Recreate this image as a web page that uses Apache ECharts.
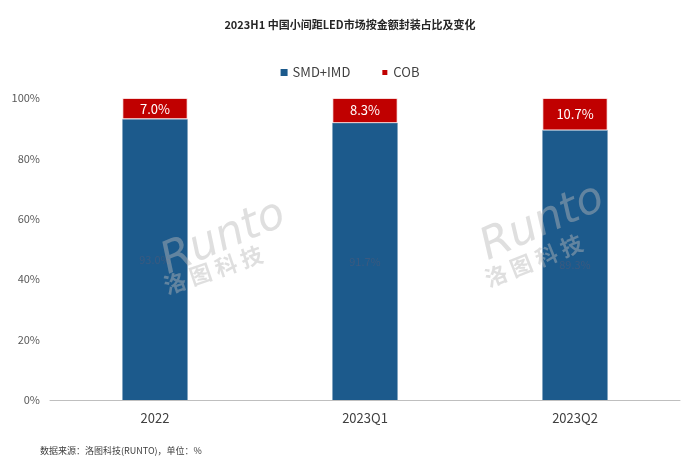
<!DOCTYPE html>
<html><head><meta charset="utf-8">
<script src="https://cdn.jsdelivr.net/npm/echarts@6/dist/echarts.min.js"></script>
<style>html,body{margin:0;padding:0;background:#fff}#c{width:700px;height:467px}</style>
</head><body><div id="c"></div>
<script>
const categories = ['2022', '2023Q1', '2023Q2'];
const smdImd = [93.0, 91.7, 89.3];
const cob = [7.0, 8.3, 10.7];
const yTicks = [0, 20, 40, 60, 80, 100];

const font = '"Noto Sans CJK SC", "Noto Sans", sans-serif';
const wmFill = 'rgba(185,185,185,0.45)';
const chart = echarts.init(document.getElementById('c'), null, {renderer: 'canvas'});
chart.setOption({
  backgroundColor: '#ffffff',
  animation: false,
  title: {
    text: '2023H1 中国小间距LED市场按金额封装占比及变化',
    left: 'center', top: 14,
    textStyle: {fontFamily: font, fontSize: 11, fontWeight: 'bold', color: '#262626'}
  },
  legend: {
    top: 61, left: 'center',
    itemWidth: 7, itemHeight: 7, itemGap: 30,
    icon: 'rect',
    textStyle: {fontFamily: font, fontSize: 13, color: '#404040'},
    data: ['SMD+IMD', 'COB']
  },
  grid: {left: 50, right: 20, top: 98, bottom: 67},
  xAxis: {
    type: 'category', data: categories,
    axisLine: {lineStyle: {color: '#bfbfbf', width: 1}},
    axisTick: {show: false},
    axisLabel: {fontFamily: font, fontSize: 13, color: '#404040', margin: 12}
  },
  yAxis: {
    type: 'value', min: yTicks[0], max: yTicks[yTicks.length - 1], interval: 20,
    axisLine: {show: false}, axisTick: {show: false},
    splitLine: {show: false},
    axisLabel: {fontFamily: font, fontSize: 11, color: '#595959', margin: 10,
      formatter: v => v + '%'}
  },
  graphic: [
    {type: 'text', left: 40, top: 446,
      style: {text: '数据来源：洛图科技(RUNTO)，单位：%', font: '9px ' + font, fill: '#404040'}},
    {type: 'text', x: 172, y: 284, rotation: 0.4, z: 100,
      style: {text: 'Runto', font: 'italic 44px "DejaVu Sans", sans-serif', fill: wmFill, textVerticalAlign: 'bottom'}},
    {type: 'text', x: 168, y: 297, rotation: 0.33, z: 100,
      style: {text: '洛 图 科 技', font: 'bold 22px ' + font, fill: wmFill, textVerticalAlign: 'bottom'}},
    {type: 'text', x: 492, y: 270, rotation: 0.42, z: 100,
      style: {text: 'Runto', font: 'italic 44px "DejaVu Sans", sans-serif', fill: wmFill, textVerticalAlign: 'bottom'}},
    {type: 'text', x: 490, y: 290, rotation: 0.38, z: 100,
      style: {text: '洛 图 科 技', font: 'bold 22px ' + font, fill: wmFill, textVerticalAlign: 'bottom'}}
  ],
  series: [
    {
      name: 'SMD+IMD', type: 'bar', stack: 'total', data: smdImd, barWidth: '31%',
      itemStyle: {color: '#1c5a8c', borderColor: '#ffffff', borderWidth: 0},
      label: {show: true, position: 'inside', fontFamily: font, fontSize: 11,
        color: '#3a5a80', formatter: p => p.value.toFixed(1) + '%'}
    },
    {
      name: 'COB', type: 'bar', stack: 'total', data: cob, barWidth: '31%',
      itemStyle: {color: '#c00000', borderColor: '#ffffff', borderWidth: 0.8},
      label: {show: true, position: 'inside', fontFamily: font, fontSize: 13,
        color: '#ffffff', formatter: p => p.value.toFixed(1) + '%'}
    }
  ]
});
</script></body></html>
